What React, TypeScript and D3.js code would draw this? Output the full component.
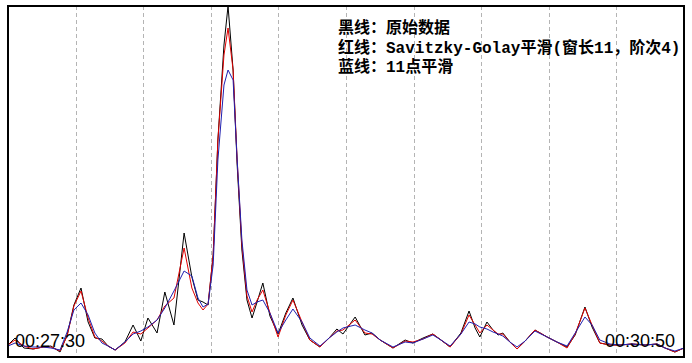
import { useEffect, useRef } from 'react';
import * as d3 from 'd3';

// sample times, seconds after 00:27:30
const times = [
  0, 2.1, 4.7, 7.4, 10.4, 12.7, 15.4, 17.5, 19.5, 21.6,
  23.7, 25.7, 27.8, 29.6, 31.7, 34.6, 37.0, 39.3, 41.4, 44.1,
  46.4, 49.1, 52.1, 54.4, 56.2, 57.7, 59.2, 60.7, 62.1, 63.9,
  65.1, 66.6, 67.8, 69.2, 70.7, 72.2, 73.7, 75.4, 77.5, 79.9,
  82.2, 84.3, 87.0, 89.3, 92.3, 95.0, 97.3, 99.1, 102.7, 105.6,
  107.7, 110.1, 113.9, 117.5, 119.8, 122.8, 125.7, 128.1, 130.8, 134.0,
  136.4, 138.2, 139.6, 141.7, 143.5, 145.0, 146.4, 148.5, 150.6, 153.0,
  155.9, 159.5, 162.4, 165.4, 167.8, 170.7, 172.8, 175.1, 178.1, 181.1,
  184.6, 188.5, 192.0, 194.4, 197.3, 200,
];

const rawData = [
  11, 18, 8, 7, 9, 10, 4, 21, 51, 68,
  34, 18, 17, 10, 6, 14, 31, 15, 38, 23,
  64, 31, 123, 79, 56, 54, 51, 101, 216, 311,
  350, 286, 191, 106, 56, 38, 54, 73, 40, 22,
  43, 58, 31, 16, 9, 18, 27, 22, 39, 21,
  23, 16, 8, 16, 13, 18, 22, 16, 9, 23,
  45, 28, 19, 34, 26, 21, 23, 14, 7, 15,
  26, 19, 14, 9, 21, 49, 29, 13, 11, 11,
  12, 11, 12, 8, 4, 8,
];

const sgData = [
  11, 16, 10, 7, 9, 9, 5, 20, 50, 65,
  38, 19, 15, 10, 6, 13, 24, 22, 28, 36,
  50, 58, 108, 68, 53, 46, 52, 101, 216, 301,
  328, 286, 196, 111, 60, 44, 56, 66, 43, 19,
  41, 56, 34, 16, 9, 18, 25, 26, 36, 23,
  22, 16, 8, 15, 14, 17, 22, 16, 9, 22,
  41, 31, 23, 31, 26, 22, 22, 14, 7, 15,
  26, 19, 14, 8, 22, 48, 31, 13, 11, 11,
  12, 11, 12, 8, 4, 8,
];

const avgData = [
  10, 13, 10, 9, 9, 8, 6, 24, 46, 53,
  41, 23, 13, 10, 6, 14, 22, 25, 29, 36,
  48, 65, 85, 80, 58, 49, 52, 91, 196, 271,
  286, 276, 196, 116, 66, 51, 54, 56, 43, 23,
  36, 47, 34, 18, 10, 18, 24, 28, 31, 26,
  23, 16, 9, 14, 13, 17, 21, 16, 10, 22,
  34, 32, 29, 27, 24, 22, 20, 14, 9, 15,
  25, 19, 14, 10, 23, 39, 31, 16, 12, 11,
  12, 11, 12, 8, 5, 8,
];

const timeLabels = ['00:27:30', '00:30:50'];
const legendLines = [
  '黑线：原始数据',
  '红线：Savitzky-Golay平滑(窗长11，阶次4)',
  '蓝线：11点平滑',
];

export default function App() {
  const svgRef = useRef<SVGSVGElement>(null);

  useEffect(() => {
    if (!svgRef.current) return;
    const svg = d3.select(svgRef.current);
    svg.selectAll('*').remove();

    const left = 8, right = 684, top = 6, bottom = 356;

    const x = d3.scaleLinear().domain([0, 200]).range([left, right]);
    const y = d3.scaleLinear().domain([0, 350]).range([bottom, top]);

    svg.append('rect')
      .attr('width', 692).attr('height', 363).attr('fill', '#fff');

    // dashed vertical grid every 20 s
    svg.append('g')
      .selectAll('line')
      .data(x.ticks(10).filter(t => t > 0 && t < 200))
      .join('line')
      .attr('x1', d => Math.round(x(d)) + 0.5)
      .attr('x2', d => Math.round(x(d)) + 0.5)
      .attr('y1', top)
      .attr('y2', bottom)
      .attr('stroke', '#b4b4b4')
      .attr('stroke-dasharray', '4,3');

    const series = [
      { values: rawData, color: '#000000' },
      { values: sgData, color: '#e00000' },
      { values: avgData, color: '#2020b0' },
    ];

    series.forEach(s => {
      const line = d3.line<number>()
        .x((_, i) => x(times[i]))
        .y(d => y(d));
      svg.append('path')
        .datum(s.values)
        .attr('fill', 'none')
        .attr('stroke', s.color)
        .attr('stroke-width', 1)
        .attr('d', line);
    });

    // frame
    svg.append('rect')
      .attr('x', left)
      .attr('y', top)
      .attr('width', right - left)
      .attr('height', bottom - top + 1)
      .attr('fill', 'none')
      .attr('stroke', '#000')
      .attr('stroke-width', 2);

    svg.append('text')
      .attr('x', x(0) + 7)
      .attr('y', 347)
      .attr('font-family', '"Liberation Sans", Arial, sans-serif')
      .attr('font-size', 18)
      .attr('fill', '#000')
      .text(timeLabels[0]);

    svg.append('text')
      .attr('x', x(200) - 9)
      .attr('y', 347)
      .attr('text-anchor', 'end')
      .attr('font-family', '"Liberation Sans", Arial, sans-serif')
      .attr('font-size', 18)
      .attr('fill', '#000')
      .text(timeLabels[1]);

    svg.append('g')
      .selectAll('text')
      .data(legendLines)
      .join('text')
      .attr('x', 338)
      .attr('y', (_, i) => 33 + i * 19.5)
      .attr('font-family', '"Liberation Mono", "Noto Sans CJK SC", monospace')
      .attr('font-size', 16)
      .attr('font-weight', 'bold')
      .attr('fill', '#000')
      .text(d => d);
  }, []);

  return (
    <svg
      ref={svgRef}
      width={692}
      height={363}
      style={{ position: 'absolute', left: 0, top: 0, display: 'block' }}
    />
  );
}
